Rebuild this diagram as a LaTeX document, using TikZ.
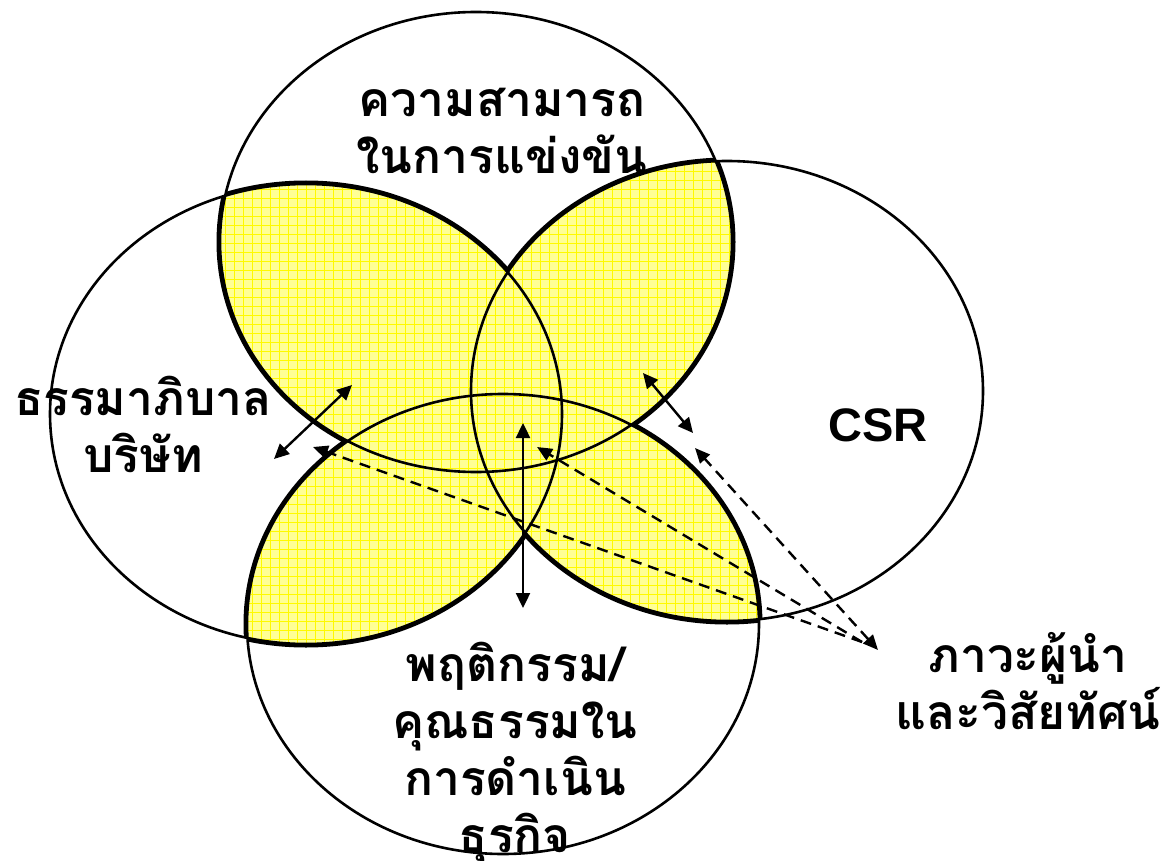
\documentclass[tikz,border=0pt]{standalone}
\usepackage{fontspec}
\setmainfont{Liberation Sans}
\newfontfamily\thaifont[Script=Thai]{Loma}
\usetikzlibrary{arrows.meta}
\usetikzlibrary{positioning}

\definecolor{petal}{RGB}{255,255,150}
\definecolor{petalgrid}{RGB}{255,250,0}

\tikzset{
  ring/.style={draw=black, line width=2.6pt},
  rim/.style={draw=black, line width=7pt},
  thai/.style={font=\thaifont\bfseries\fontsize{48}{57}\selectfont, align=center, inner sep=0pt},
  latin/.style={font=\bfseries\fontsize{47}{52}\selectfont, inner sep=0pt},
  link/.style={line width=2.4pt, {Triangle[length=15pt,width=14pt]}-{Triangle[length=15pt,width=14pt]}},
  hint/.style={line width=2.4pt, dash pattern=on 11pt off 7pt, -{Triangle[length=15pt,width=13pt]}}
}
\def\rx{256}
\def\ry{230}

\begin{document}
\begin{tikzpicture}[x=1pt, y=-1pt]
  \useasboundingbox (0,0) rectangle (1167,861);
  % centres of the four rings
  \coordinate (t) at (476,242);
  \coordinate (l) at (306,414);
  \coordinate (r) at (727,391);
  \coordinate (b) at (503,624);

  % outer rim of the yellow petals
  \foreach \a/\b in {t/l, t/r, b/l, b/r} {
    \begin{scope}
      \clip (\a) ellipse [x radius=\rx, y radius=\ry];
      \draw[rim] (\b) ellipse [x radius=\rx, y radius=\ry];
    \end{scope}
    \begin{scope}
      \clip (\b) ellipse [x radius=\rx, y radius=\ry];
      \draw[rim] (\a) ellipse [x radius=\rx, y radius=\ry];
    \end{scope}
  }
  % petals: fill and grid
  \foreach \a/\b in {t/l, t/r, b/l, b/r} {
    \begin{scope}
      \clip (\a) ellipse [x radius=\rx, y radius=\ry];
      \clip (\b) ellipse [x radius=\rx, y radius=\ry];
      \fill[petal] (0,0) rectangle (1167,861);
      \draw[petalgrid, line width=0.7pt] (0,861) grid[step=9pt] (1167,0);
    \end{scope}
  }
  % rings
  \foreach \c in {t, l, r, b}
    \draw[ring] (\c) ellipse [x radius=\rx, y radius=\ry];

  % arrows
  \coordinate (govA) at (274,459);
  \coordinate (govB) at (352,385);
  \coordinate (ethA) at (523,423);
  \coordinate (ethB) at (523,608);
  \coordinate (csrA) at (643,373);
  \coordinate (csrB) at (693,433);
  \coordinate (hub) at (862,642);
  \coordinate (hubtip) at (878,650);
  \coordinate (toGov) at (313,447);
  \coordinate (toEth) at (537,447);
  \coordinate (toCsr) at (695,448);
  \draw[link] (govA) -- (govB);
  \draw[link] (ethA) -- (ethB);
  \draw[link] (csrA) -- (csrB);
  \draw[hint] (hub) -- (toGov);
  \draw[hint] (hub) -- (toEth);
  \draw[hint, {Triangle[length=15pt,width=13pt]}-{Triangle[length=15pt,width=13pt]}] (hubtip) -- (toCsr);

  % labels
  \node[thai] (compete) at (502,131) {ความสามารถ\\ในการแข่งขัน};
  \node[thai] (govern) at (143,424) {ธรรมาภิบาล\\บริษัท};
  \node[latin] (csr) at (878,425) {CSR};
  \node[thai] (ethics) at (515,754) {พฤติกรรม/\\คุณธรรมใน\\การดำเนิน\\ธุรกิจ};
  \node[thai] (lead) at (1028,681) {ภาวะผู้นำ\\และวิสัยทัศน์};
\end{tikzpicture}
\end{document}
